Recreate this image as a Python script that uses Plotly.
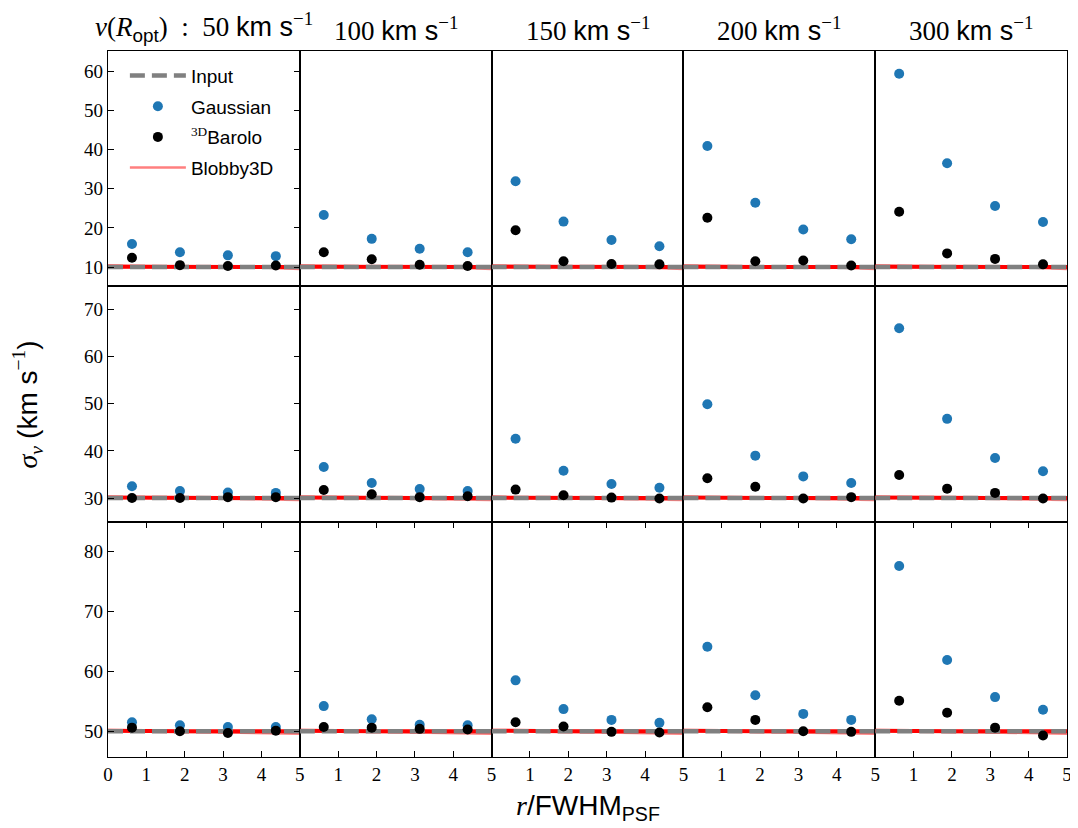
import plotly.graph_objects as go
from plotly.subplots import make_subplots

# ---------------- data ----------------
velocities = [50, 100, 150, 200, 300]          # v(R_opt) in km/s, one column each
sigma_input = [10, 30, 50]                     # input dispersion, one row each
radius = [0.625, 1.875, 3.125, 4.375]          # r / FWHM_PSF of the measurements
input_r = [0, 5]
blobby_r = [0, 1, 2, 3, 4, 5]

gaussian_sigma10 = [
    [15.9, 13.8, 13.0, 12.8],
    [23.3, 17.2, 14.7, 13.8],
    [31.9, 21.6, 16.9, 15.3],
    [40.9, 26.4, 19.6, 17.1],
    [59.3, 36.5, 25.6, 21.5],
]
barolo_sigma10 = [
    [12.4, 10.5, 10.3, 10.4],
    [13.8, 12.0, 10.6, 10.3],
    [19.4, 11.5, 10.8, 10.7],
    [22.6, 11.5, 11.7, 10.4],
    [24.1, 13.5, 12.1, 10.7],
]
gaussian_sigma30 = [
    [32.5, 31.5, 31.2, 31.1],
    [36.6, 33.2, 31.9, 31.5],
    [42.6, 35.8, 33.0, 32.2],
    [49.9, 39.0, 34.6, 33.2],
    [66.0, 46.8, 38.5, 35.7],
]
barolo_sigma30 = [
    [30.0, 30.0, 30.2, 30.2],
    [31.7, 30.8, 30.2, 30.4],
    [31.8, 30.6, 30.1, 29.9],
    [34.2, 32.4, 29.9, 30.2],
    [34.9, 32.0, 31.1, 29.9],
]
gaussian_sigma50 = [
    [51.5, 51.0, 50.7, 50.7],
    [54.2, 52.0, 51.1, 51.0],
    [58.5, 53.7, 51.9, 51.4],
    [64.1, 56.0, 52.9, 51.9],
    [77.6, 61.9, 55.7, 53.6],
]
barolo_sigma50 = [
    [50.6, 50.0, 49.7, 50.1],
    [50.7, 50.6, 50.4, 50.3],
    [51.5, 50.8, 49.9, 49.8],
    [54.0, 51.9, 50.0, 49.9],
    [55.1, 53.1, 50.6, 49.3],
]
# Blobby3D recovered profiles (median and a spread sample)
blobby_median = [
    [10.1, 10.1, 10.0, 10.0, 10.0, 10.0],
    [30.1, 30.0, 30.0, 30.0, 30.0, 30.0],
    [50.1, 50.0, 50.0, 50.0, 50.0, 50.0],
]
blobby_sample = [
    [10.4, 10.3, 10.1, 10.0, 9.9, 9.5],
    [30.2, 30.1, 30.0, 29.9, 29.8, 29.6],
    [50.1, 50.0, 50.0, 49.9, 49.8, 49.6],
]

gaussian_rows = [gaussian_sigma10, gaussian_sigma30, gaussian_sigma50]
barolo_rows = [barolo_sigma10, barolo_sigma30, barolo_sigma50]

y_ranges = [[5.1, 65.1], [25.0, 74.9], [45.7, 85.0]]
y_ticks = [[10, 20, 30, 40, 50, 60], [30, 40, 50, 60, 70], [50, 60, 70, 80]]

SERIF = "Liberation Serif"
SANS = "Liberation Sans"
BLUE = "#1f77b4"

fig = make_subplots(rows=3, cols=5, horizontal_spacing=0, vertical_spacing=0)

for i in range(3):
    for j in range(5):
        first = (i == 0 and j == 0)
        fig.add_trace(go.Scatter(
            x=radius, y=gaussian_rows[i][j], mode="markers", name="Gaussian",
            marker=dict(color=BLUE, size=10), showlegend=first,
            legendgroup="g", legendrank=2), row=i + 1, col=j + 1)
        fig.add_trace(go.Scatter(
            x=blobby_r, y=blobby_sample[i], mode="lines", name="Blobby3D",
            line=dict(color="rgba(255,0,0,0.5)", width=2.5), showlegend=first,
            legendgroup="b", legendrank=4), row=i + 1, col=j + 1)
        fig.add_trace(go.Scatter(
            x=blobby_r, y=blobby_median[i], mode="lines", name="Blobby3D",
            line=dict(color="red", width=4), showlegend=False,
            legendgroup="b", legendrank=4), row=i + 1, col=j + 1)
        fig.add_trace(go.Scatter(
            x=input_r, y=[sigma_input[i]] * 2, mode="lines", name="Input",
            line=dict(color="#808080", width=4.5, dash="15px,7px"),
            showlegend=first, legendgroup="i", legendrank=1), row=i + 1, col=j + 1)
        fig.add_trace(go.Scatter(
            x=radius, y=barolo_rows[i][j], mode="markers",
            name='<span style="font-family:Liberation Serif"><sup>3D</sup></span>Barolo',
            marker=dict(color="black", size=10), showlegend=first,
            legendgroup="k", legendrank=3), row=i + 1, col=j + 1)

for i in range(3):
    for j in range(5):
        r, c = i + 1, j + 1
        xa = dict(range=[0, 5], showline=True, linecolor="black", linewidth=1.2,
                  showgrid=False, zeroline=False,
                  tickfont=dict(family=SERIF, size=19, color="black"))
        if i == 2:
            xa.update(ticks="inside", ticklen=6, tickwidth=1.3, tickcolor="black",
                      mirror="ticks",
                      tickvals=[0, 1, 2, 3, 4, 5] if j == 0 else [1, 2, 3, 4, 5],
                      showticklabels=True)
        else:
            xa.update(ticks="", mirror=True, showticklabels=False)
        fig.update_xaxes(row=r, col=c, **xa)

        ya = dict(range=y_ranges[i], showline=True, linecolor="black", linewidth=1.2,
                  showgrid=False, zeroline=False,
                  tickfont=dict(family=SERIF, size=19, color="black"))
        if j == 0:
            ya.update(ticks="inside", ticklen=6, tickwidth=1.3, tickcolor="black",
                      mirror="ticks", tickvals=y_ticks[i], showticklabels=True)
        else:
            ya.update(ticks="", mirror=True, showticklabels=False)
        fig.update_yaxes(row=r, col=c, **ya)

annotations = []
for j, v in enumerate(velocities):
    unit = f'<span style="font-family:{SANS}">km s</span><sup>−1</sup>'
    if j == 0:
        txt = (f'<i>v</i>(<i>R</i><sub><span style="font-family:{SANS}">opt</span></sub>)'
               f'  :  {v} ' + unit)
    else:
        txt = f'{v} ' + unit
    annotations.append(dict(x=(j + 0.5) / 5, y=1, xref="paper", yref="paper",
                            xanchor="center", yanchor="bottom", yshift=3,
                            showarrow=False, text=txt,
                            font=dict(family=SERIF, size=27, color="black")))

annotations.append(dict(
    x=-0.084, y=0.5, xref="paper", yref="paper", xanchor="center", yanchor="middle",
    textangle=-90, showarrow=False,
    text=f'<i>σ</i><sub><i>v</i></sub> <span style="font-family:{SANS}">(km s</span><sup>−1</sup><span style="font-family:{SANS}">)</span>',
    font=dict(family=SERIF, size=28, color="black")))
annotations.append(dict(
    x=0.5, y=-0.071, xref="paper", yref="paper", xanchor="center", yanchor="middle",
    showarrow=False,
    text=f'<i>r</i><span style="font-family:{SANS}">/FWHM<sub>PSF</sub></span>',
    font=dict(family=SERIF, size=28, color="black")))

# the page body adds an 8 px offset, so the figure is 8 px smaller and margins shifted
fig.update_layout(
    width=1070, height=820,
    margin=dict(l=100, r=6, t=43, b=71),
    paper_bgcolor="white", plot_bgcolor="white",
    annotations=annotations,
    showlegend=True,
    legend=dict(x=0.0176, y=0.992, xanchor="left", yanchor="top",
                bgcolor="rgba(0,0,0,0)", borderwidth=0,
                font=dict(family=SANS, size=19, color="black"),
                itemwidth=56, tracegroupgap=3, traceorder="grouped"),
)

fig.write_html("out.html")
